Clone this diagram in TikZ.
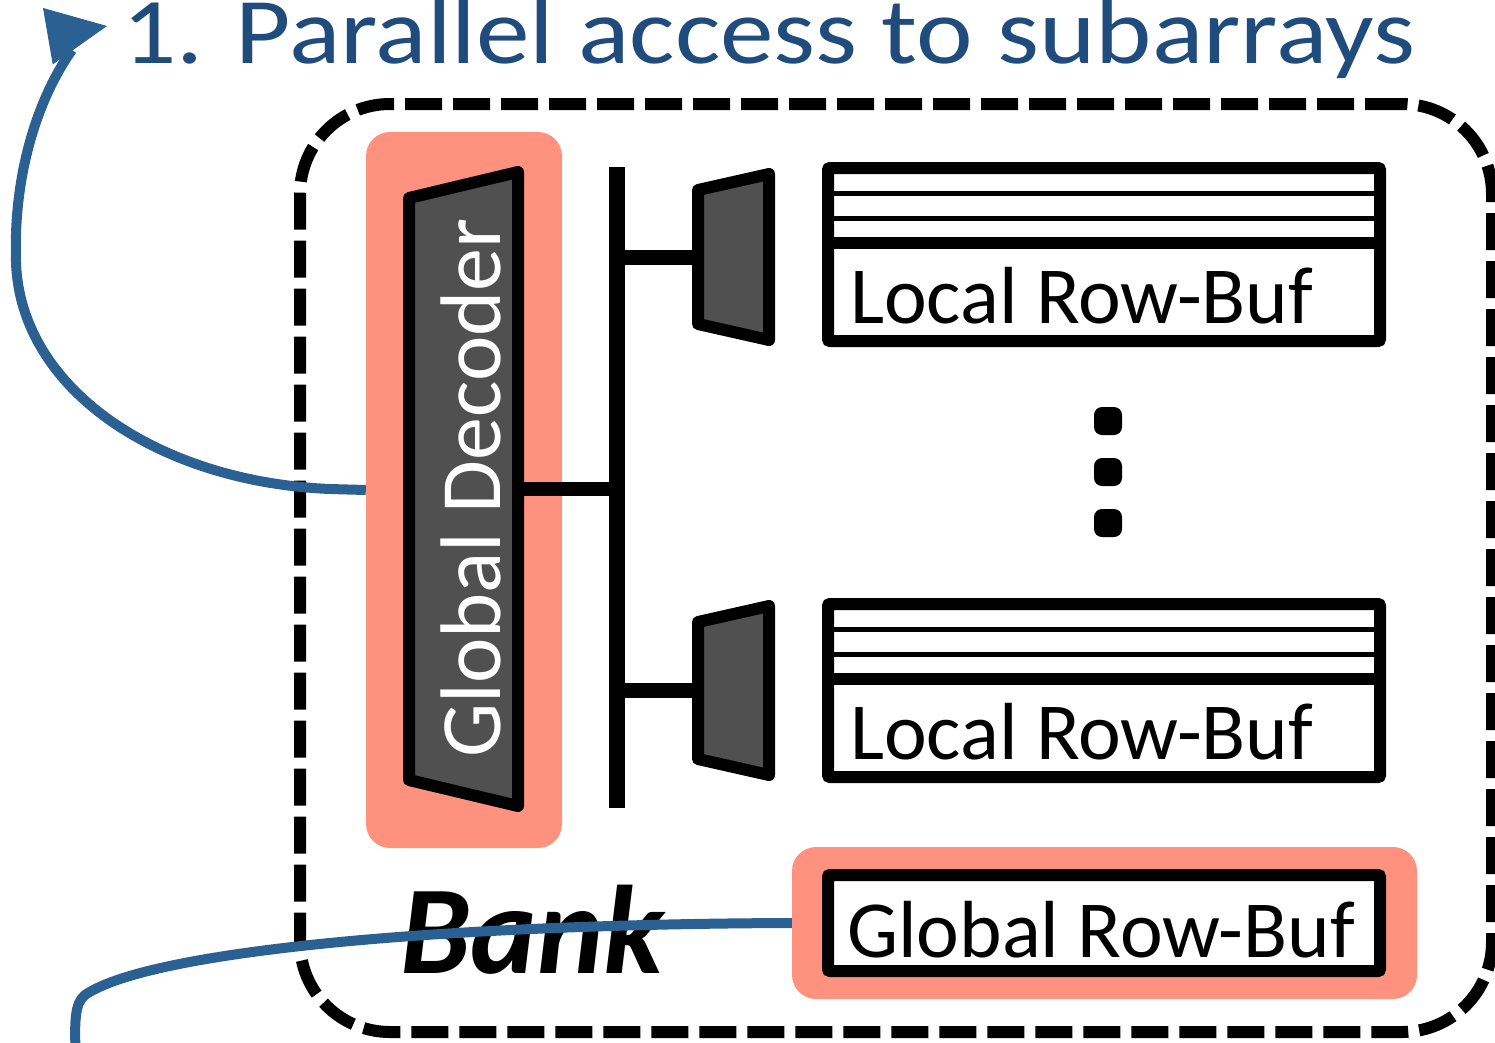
\documentclass[tikz,border=0pt]{standalone}
\usepackage{fontspec}
\setmainfont{Carlito}
\usetikzlibrary{arrows.meta}
\definecolor{salmon}{RGB}{255,146,126}
\definecolor{titleblue}{RGB}{31,75,125}
\definecolor{curveblue}{RGB}{42,96,146}
\definecolor{decgray}{RGB}{80,80,80}
\begin{document}
\begin{tikzpicture}[x=1pt,y=-1pt,
  bankbox/.style={draw=black, line width=12pt, dash pattern=on 37pt off 11pt, rounded corners=90pt, inner sep=0pt},
  highlight/.style={fill=salmon, rounded corners=24pt, inner sep=0pt},
  trap/.style={draw=black, fill=decgray, line width=12pt, line join=round},
  wire/.style={draw=black, line width=15pt},
  mat/.style={draw=black, line width=12pt, rounded corners=2pt, inner sep=0pt},
  rowline/.style={draw=black, line width=5pt},
  bufline/.style={draw=black, line width=12pt},
  lbl/.style={font=\fontsize{81}{81}\selectfont, inner sep=0pt, anchor=base west},
  dotbox/.style={fill=black, rounded corners=8pt, minimum size=28pt, inner sep=0pt},
  curve/.style={draw=curveblue, line width=10pt},
]
\useasboundingbox (0,0) rectangle (1495,1042);

% title
\node[anchor=base west, inner sep=0pt, text=titleblue, font=\fontsize{94}{94}\selectfont] (title) at (122,63) {\scalebox{1.141}[1]{1. Parallel access to subarrays}};

% bank boundary
\node[bankbox, minimum width=1192pt, minimum height=928pt] (bank) at (896,568) {};

% highlights
\node[highlight, minimum width=196pt, minimum height=716pt] (dechl) at (464,490) {};
\node[highlight, minimum width=625pt, minimum height=152pt] (globhl) at (1104.5,923) {};

% global decoder
\draw[trap] (409,198) -- (518,172) -- (518,806) -- (409,780) -- cycle;
\node[rotate=90, anchor=base west, inner sep=0pt, text=white, font=\fontsize{86}{86}\selectfont] (dectext) at (500,758) {Global Decoder};

% bus
\coordinate (decR) at (518,489);
\coordinate (busM) at (617,489);
\coordinate (busT) at (617,167);
\coordinate (busB) at (617,808);
\coordinate (busU) at (617,257);
\coordinate (busL) at (617,690);
\coordinate (ldU) at (698,257);
\coordinate (ldL) at (698,690);
\draw[wire, line width=16pt] (busT) -- (busB);
\draw[wire, line width=14pt] (decR) -- (busM);
\draw[wire] (busU) -- (ldU);
\draw[wire] (busL) -- (ldL);

% local decoders
\draw[trap] (698,190) -- (769,174) -- (769,340) -- (698,324) -- cycle;
\draw[trap] (698,622) -- (769,606) -- (769,775) -- (698,759) -- cycle;

% local row buffers (mats)
\node[mat, minimum width=552pt, minimum height=173pt] (matU) at (1104,254.5) {};
\draw[rowline] (828,193) -- (1380,193);
\draw[rowline] (828,218) -- (1380,218);
\draw[bufline] (828,243) -- (1380,243);
\node[lbl] (lrbU) at (850,323) {Local Row-Buf};

\node[mat, minimum width=552pt, minimum height=173pt] (matL) at (1104,690.5) {};
\draw[rowline] (828,629) -- (1380,629);
\draw[rowline] (828,654) -- (1380,654);
\draw[bufline] (828,679) -- (1380,679);
\node[lbl] (lrbL) at (850,759) {Local Row-Buf};

% dots
\node[dotbox] (d1) at (1108,421) {};
\node[dotbox] (d2) at (1108,472) {};
\node[dotbox] (d3) at (1108,523) {};

% global row buffer
\node[mat, fill=white, minimum width=552pt, minimum height=96pt] (grb) at (1104,923) {};
\node[lbl] (grbtext) at (847,957) {Global Row-Buf};

% bank label
\node[anchor=base west, inner sep=0pt, font=\fontsize{126}{126}\selectfont\bfseries\itshape] (banklbl) at (400,973) {Bank};

% curves
\draw[curve] (dechl.west) -- (330,489) .. controls (160,482) and (20,390) .. (16,262) .. controls (13,170) and (40,95) .. (72,50);
\coordinate (arrback) at (49,36);
\coordinate (arrtip) at (107,26);
\draw[curveblue, line width=1pt, -{Triangle[length=60pt,width=57pt]}] (arrback) -- (arrtip);
\draw[curve] (globhl.west) .. controls (450,924) and (150,950) .. (85,995) .. controls (75,1003) and (74,1020) .. (76,1060);
\end{tikzpicture}
\end{document}
